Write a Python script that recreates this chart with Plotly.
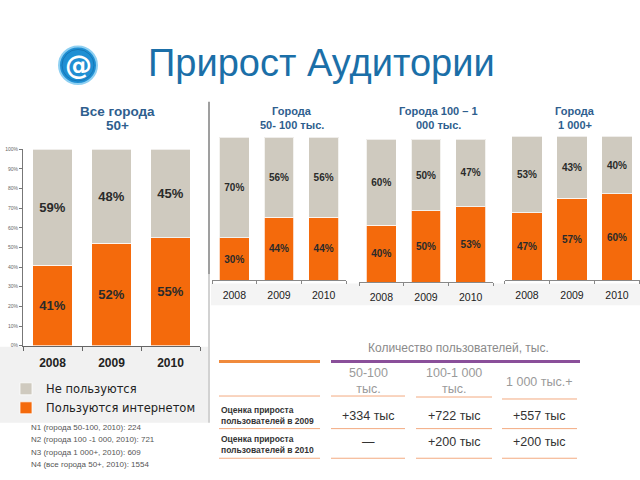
import plotly.graph_objects as go

# ---------------- data ----------------
years = ["2008", "2009", "2010"]
panel_titles = [["Все города", "50+"],
                ["Города", "50- 100 тыс."],
                ["Города 100 – 1", "000 тыс."],
                ["Города", "1 000+"]]
users_pct = [[41, 52, 55],
             [30, 44, 44],
             [40, 50, 53],
             [47, 57, 60]]
nonusers_pct = [[59, 48, 45],
                [70, 56, 56],
                [60, 50, 47],
                [53, 43, 40]]
legend_names = ["Пользуются интернетом", "Не пользуются"]
y_ticks = [0, 10, 20, 30, 40, 50, 60, 70, 80, 90, 100]

main_title = "Прирост Аудитории"
table_header = "Количество пользователей, тыс."
table_cols = ["50-100<br>тыс.", "100-1 000<br>тыс.", "1 000 тыс.+"]
table_rows = ["Оценка прироста<br>пользователей в 2009",
              "Оценка прироста<br>пользователей в 2010"]
table_vals = [["+334 тыс", "+722 тыс", "+557 тыс"],
              ["—", "+200 тыс", "+200 тыс"]]
footnotes = ["N1 (города 50-100, 2010): 224",
             "N2 (города 100 -1 000, 2010): 721",
             "N3 (города 1 000+, 2010): 609",
             "N4 (все города 50+, 2010): 1554"]

# ---------------- styling / layout helpers ----------------
W, H = 640, 480
def px(x): return x / W
def py(y): return 1 - y / H

ORANGE = "#f46a0c"
GREY = "#cfcabf"
TITLE_BLUE = "#1b6fa8"
PANEL_BLUE = "#2e5e8e"
FONT = "Liberation Sans, Arial, sans-serif"

x_domains = [(23, 200), (212, 346), (359, 493), (504.5, 639.5)]
y_domains = [(347, 148), (281, 136), (283, 138), (281, 135)]
title_centers = [117, 292, 438, 575]

fig = go.Figure()
layout_axes = {}
for i in range(4):
    xa = "x" if i == 0 else f"x{i+1}"
    ya = "y" if i == 0 else f"y{i+1}"
    big = (i == 0)
    for vals, name, color, rank in [(users_pct[i], legend_names[0], ORANGE, 2),
                                    (nonusers_pct[i], legend_names[1], GREY, 1)]:
        fig.add_trace(go.Bar(
            x=years, y=vals, name=name, xaxis=xa, yaxis=ya,
            marker=dict(color=color, line=dict(color="rgba(255,255,255,0.75)", width=1)),
            text=[f"{v}%" for v in vals], textposition="inside",
            insidetextanchor="middle", textangle=0,
            textfont=dict(family=FONT, size=13 if big else 10, color="#2a2a2a", weight="bold"),
            showlegend=big, legendrank=rank, hoverinfo="skip"))
    xkey = "xaxis" if i == 0 else f"xaxis{i+1}"
    ykey = "yaxis" if i == 0 else f"yaxis{i+1}"
    layout_axes[xkey] = dict(
        domain=[px(x_domains[i][0]), px(x_domains[i][1])], anchor=ya,
        type="category", showline=True, linecolor="#666" if big else "#888",
        linewidth=1, ticks="outside", tickson="boundaries", ticklen=4 if big else 3,
        tickcolor="#666" if big else "#888", showgrid=False, fixedrange=True,
        ticklabelstandoff=6 if big else 5,
        tickfont=dict(family=FONT, size=12 if big else 10.5, color="#222",
                      weight="bold" if big else "normal"))
    layout_axes[ykey] = dict(
        domain=[py(y_domains[i][0]), py(y_domains[i][1])], anchor=xa,
        range=[0, 100], showgrid=False, zeroline=False, fixedrange=True,
        visible=big, showline=big, linecolor="#777", ticks="outside", ticklen=3,
        tickcolor="#777", tickvals=y_ticks, ticktext=[f"{v}%" for v in y_ticks],
        tickfont=dict(family=FONT, size=5, color="#666"))

P = dict(xref="paper", yref="paper")
shapes = []
# backgrounds
shapes.append(dict(type="rect", **P, x0=px(0), x1=px(208),
                   y0=py(425), y1=py(348), fillcolor="#f1f1f1", line_width=0, layer="below"))
shapes.append(dict(type="rect", **P, x0=px(211), x1=px(640),
                   y0=py(306), y1=py(284), fillcolor="#f4f4f4", line_width=0, layer="below"))
# separator
shapes.append(dict(type="line", **P, x0=px(209), x1=px(209),
                   y0=py(100), y1=py(275), line=dict(color="#9f9f9f", width=2)))
shapes.append(dict(type="line", **P, x0=px(209), x1=px(209),
                   y0=py(275), y1=py(425), line=dict(color="#d2d2d2", width=2)))
# logo
shapes.append(dict(type="circle", **P, x0=px(59), x1=px(97),
                   y0=py(82), y1=py(44), fillcolor="#1f8fd3", line=dict(color="#8fd0f2", width=2)))
shapes.append(dict(type="circle", **P, x0=px(62), x1=px(94),
                   y0=py(79), y1=py(47), fillcolor="rgba(0,0,0,0)", line=dict(color="#1677b6", width=1)))

# table lines
THIN = "#f3aa80"
shapes.append(dict(type="line", **P, x0=px(219), x1=px(320),
                   y0=py(363), y1=py(363), line=dict(color="#f08a3c", width=3)))
shapes.append(dict(type="line", **P, x0=px(331), x1=px(580),
                   y0=py(363), y1=py(363), line=dict(color="#8a4f9a", width=3)))
col_spans = [(219, 320), (331, 405), (416, 492), (502, 577)]
for yline, offs in [(398, [0, 0, 1, 3]), (431, [0, 0, 0, 0]), (461, [0, 0, 0, 0])]:
    for (a, b), o in zip(col_spans, offs):
        shapes.append(dict(type="line", **P, x0=px(a), x1=px(b),
                           y0=py(yline + o), y1=py(yline + o), line=dict(color=THIN, width=1)))

ann = []
ann.append(dict(text=main_title, **P, x=px(146), y=py(61), xanchor="left", yanchor="middle",
                showarrow=False, font=dict(family=FONT, size=38, color=TITLE_BLUE)))
ann.append(dict(text="@", **P, x=px(78), y=py(62), xanchor="center", yanchor="middle",
                showarrow=False, font=dict(family="DejaVu Sans", size=27, color="white", weight="bold")))
for i, lines in enumerate(panel_titles):
    size = 13.5 if i == 0 else 11
    y0 = 110 if i == 0 else 109
    for j, line in enumerate(lines):
        ann.append(dict(text=line, **P, x=px(title_centers[i]), y=py(y0 + j * 14.5),
                        xanchor="center", yanchor="middle", showarrow=False,
                        font=dict(family=FONT, size=size, color=PANEL_BLUE, weight="bold")))
# table
ann.append(dict(text=table_header, **P, x=px(458), y=py(349), xanchor="center", yanchor="middle",
                showarrow=False, font=dict(family=FONT, size=12, color="#8a8a8a")))
col_centers = [368, 454, 539]
col_y = [382.5, 382.5, 384]
for c, txt in enumerate(table_cols):
    ann.append(dict(text=txt, **P, x=px(col_centers[c]), y=py(col_y[c]), xanchor="center",
                    yanchor="middle", showarrow=False,
                    font=dict(family=FONT, size=12.5, color="#9a9a9a")))
row_label_y = [417.5, 447]
row_val_y = [418, 445]
for r, lab in enumerate(table_rows):
    ann.append(dict(text=lab, **P, x=px(219), y=py(row_label_y[r]), xanchor="left", yanchor="middle",
                    align="left", showarrow=False,
                    font=dict(family=FONT, size=8.5, color="#333", weight="bold")))
    for c, v in enumerate(table_vals[r]):
        ann.append(dict(text=v, **P, x=px(col_centers[c]), y=py(row_val_y[r]), xanchor="center",
                        yanchor="middle", showarrow=False,
                        font=dict(family=FONT, size=12.5, color="#333")))
for k, fn in enumerate(footnotes):
    ann.append(dict(text=fn, **P, x=px(29), y=py(430 + k * 12.4), xanchor="left", yanchor="middle",
                    showarrow=False, font=dict(family=FONT, size=8, color="#555")))

fig.update_layout(
    width=W, height=H, margin=dict(l=0, r=0, t=0, b=0),
    paper_bgcolor="white", plot_bgcolor="rgba(0,0,0,0)",
    barmode="stack", bargap=0.33,
    font=dict(family=FONT),
    showlegend=True,
    legend=dict(x=px(6), y=py(376), xanchor="left", yanchor="top",
                traceorder="normal", itemwidth=30,
                bgcolor="rgba(0,0,0,0)",
                font=dict(family="DejaVu Sans", size=11.5, color="#222")),
    shapes=shapes, annotations=ann,
    **layout_axes)

fig.write_html("out.html", config={"displayModeBar": False},
               post_script="document.body.style.margin='0';document.body.style.overflow='hidden';")
